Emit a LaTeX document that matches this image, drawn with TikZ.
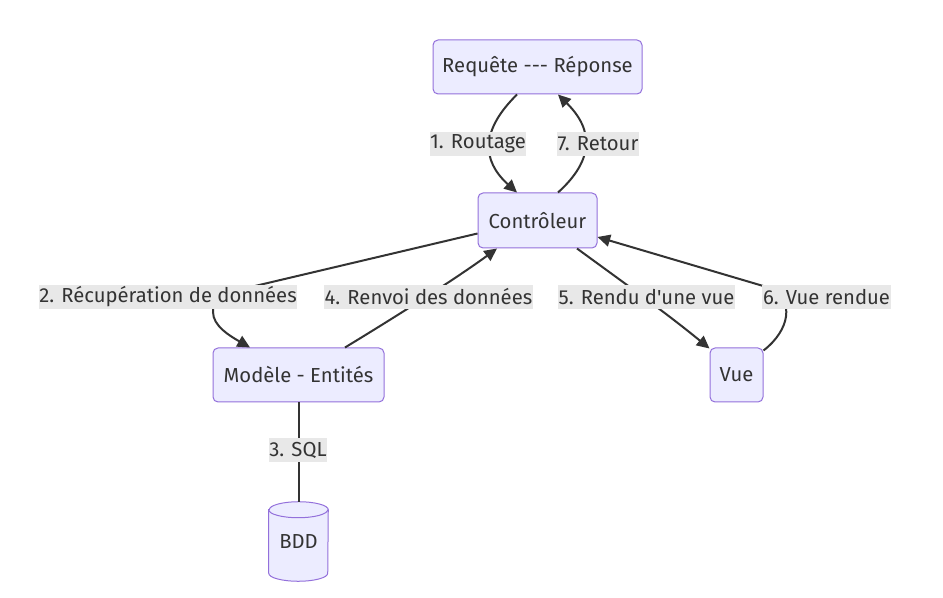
\documentclass[tikz,border=0pt]{standalone}
\usepackage{fontspec}
\setmainfont{Fira Sans}[Ligatures=TeXOff]
\usetikzlibrary{arrows.meta,calc,backgrounds}
\definecolor{nfill}{HTML}{ECECFF}
\definecolor{nline}{HTML}{9370DB}
\definecolor{eline}{HTML}{333333}
\definecolor{lbg}{HTML}{E8E8E8}
\definecolor{txt}{HTML}{333333}
\begin{document}
\begin{tikzpicture}[x=0.75pt,y=-0.75pt,
  font=\fontsize{15.2}{17}\selectfont, text=txt,
  box/.style={draw=nline, fill=nfill, line width=0.75pt, rounded corners=3.75pt, inner sep=0pt},
  lbl/.style={fill=lbg, inner xsep=0.5pt, inner ysep=0pt, minimum height=18pt},
  edge/.style={draw=eline, line width=1.5pt},
  arr/.style={edge, -{Triangle[length=9.5pt,width=9pt]}},
  cyl/.style={draw=nline, fill=nfill, line width=0.75pt}]
\useasboundingbox (0,0) rectangle (943,598);
\node[box, minimum width=156.75pt, minimum height=40.5pt] (req) at (537.5,67) {Requête --- Réponse};
\node[box, minimum width=89.25pt, minimum height=41.25pt] (ctrl) at (537.5,220.5) {Contrôleur};
\node[box, minimum width=128.25pt, minimum height=40.5pt] (mod) at (298.5,375) {Modèle - Entités};
\node[box, minimum width=39.75pt, minimum height=40.5pt] (vue) at (736.5,375) {Vue};
\node[inner sep=0pt, minimum width=44.25pt, minimum height=59.25pt] (bdd) at (298.5,541.5) {BDD};
\begin{pgfonlayer}{background}
\draw[cyl] ($(bdd.north west)+(0,8)$) -- ($(bdd.south west)+(0,-8)$)
  arc[start angle=180,end angle=0,x radius=29.5,y radius=8]
  -- ($(bdd.north east)+(0,8)$)
  arc[start angle=0,end angle=-180,x radius=29.5,y radius=8] -- cycle;
\draw[cyl, fill=none] ($(bdd.north west)+(0,8)$) arc[start angle=180,end angle=0,x radius=29.5,y radius=8];
\end{pgfonlayer}
% connectors
\draw[arr] ($(req.south)+(-20.5,0)$) .. controls (481,130) and (481,160) .. ($(ctrl.north)+(-20.5,0)$);
\draw[arr] ($(ctrl.north)+(20.5,0)$) .. controls (594,160) and (594,130) .. ($(req.south)+(20.5,0)$);
\draw[arr] ($(ctrl.west)+(0,13)$) -- (255,286) .. controls (215,296) and (213,300) .. (213,312)
  .. controls (213,326) and (230,336) .. ($(mod.north)+(-48.5,0)$);
\draw[arr] ($(mod.north)+(46.5,0)$) .. controls (415,305) and (465,272) .. ($(ctrl.south)+(-40.5,0)$);
\draw[arr] ($(ctrl.south)+(39.5,0)$) .. controls (620,280) and (665,312) .. ($(vue.north west)+(0,1)$);
\draw[arr] ($(vue.north east)+(0,3)$) .. controls (790,330) and (795,300) .. (770,288) -- ($(ctrl.east)+(0,16.5)$);
\draw[edge] (mod.south) -- (bdd.north);
% labels
\node[lbl] (l1) at (478,144) {1. Routage};
\node[lbl] (l7) at (598,144) {7. Retour};
\node[lbl] (l2) at (168,297) {2. Récupération de données};
\node[lbl] (l4) at (428.5,297) {4. Renvoi des données};
\node[lbl] (l5) at (646.5,297) {5. Rendu d'une vue};
\node[lbl] (l6) at (826.5,297) {6. Vue rendue};
\node[lbl] (l3) at (298,450.5) {3. SQL};
\end{tikzpicture}
\end{document}
